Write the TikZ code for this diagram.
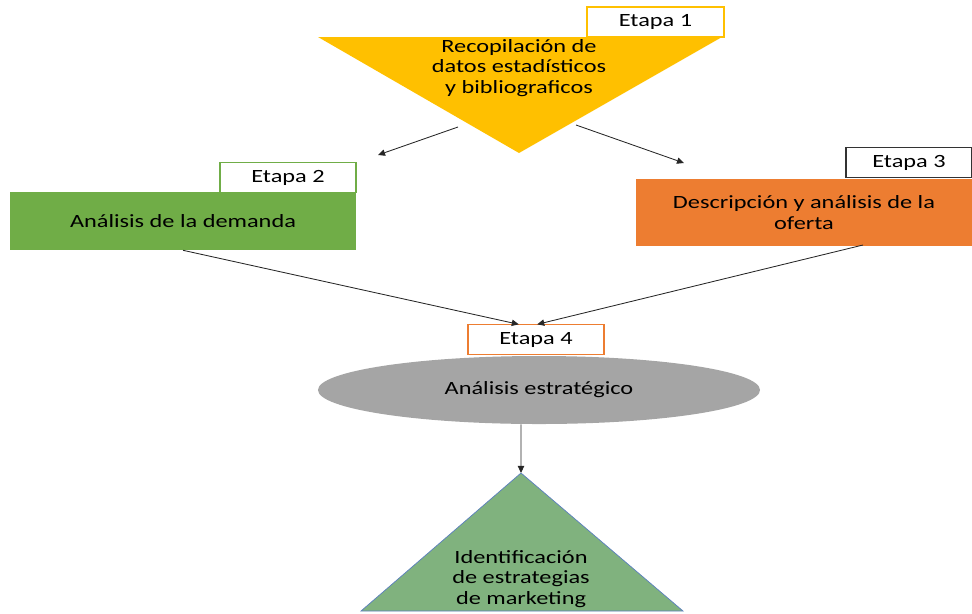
\documentclass[tikz,border=0pt]{standalone}
\usepackage{fontspec}
\setmainfont{Carlito}[FakeStretch=1.3]
\usetikzlibrary{arrows.meta, shapes.geometric, positioning}
\definecolor{etyellow}{HTML}{FFC000}
\definecolor{etgreen}{HTML}{70AD47}
\definecolor{etorange}{HTML}{ED7D31}
\definecolor{etgray}{HTML}{A5A5A5}
\definecolor{etsage}{HTML}{80B27E}
\definecolor{etblue}{HTML}{5B7FBF}
\tikzset{
  stagebox/.style={
    rectangle, minimum width=3.4cm, minimum height=0.73cm,
    inner sep=0pt, text centered, text height=0.644em, text depth=0pt,
    draw=#1, fill=white, line width=0.8pt, text=black
  },
  phasebox/.style={
    rectangle, inner sep=0pt, text centered, align=center,
    fill=#1, text=black
  },
  flowarrow/.style={-{Triangle[length=5pt,width=4.5pt]}, line width=0.6pt, black!85},
}

\begin{document}
\begin{tikzpicture}[x=0.025cm,y=-0.025cm,font=\fontsize{13.3}{14.6}\selectfont]
  \useasboundingbox (0,0) rectangle (972,613);
  % etapa 1
  \fill[etyellow] (318,37) -- (722,37) -- (519,153) -- cycle;
  \node[align=center,text=black](recop)at(519,68)
       {Recopilación de\\datos estadísticos\\y bibliograficos};
  \node[stagebox=etyellow,minimum width=3.425cm,minimum height=0.75cm](e1)at(655.5,22){Etapa 1};
  % etapa 2 y 3
  \node[phasebox=etgreen,minimum width=8.65cm,minimum height=1.45cm](dem)at(183,221)
       {Análisis de la demanda};
  \node[stagebox=etgreen](e2)at(288,177.5){Etapa 2};
  \node[phasebox=etorange,minimum width=8.4cm,minimum height=1.675cm](ofer)at(804,212.5)
       {Descripción y análisis de la\\oferta};
  \node[stagebox=black!80,minimum width=3.15cm](e3)at(909,162.5){Etapa 3};
  % etapa 4
  \node[stagebox=etorange](e4)at(536,339.5){Etapa 4};
  \node[ellipse,fill=etgray,minimum width=11.05cm,minimum height=1.7cm,
        text=black](estr)at(539,390){\raisebox{-1.5pt}{Análisis estratégico}};
  % identificacion
  \coordinate (apex) at (521,473);
  \filldraw[fill=etsage,draw=etblue,line width=0.5pt] (apex) -- (683,611) -- (361,611) -- cycle;
  \node[align=center,text=black](ident)at(521,579)
       {Identificación\\de estrategias\\de marketing};
  % flechas
  \coordinate (t1l) at (458,127);
  \coordinate (t1r) at (576,125);
  \coordinate (d2) at (378,155);
  \coordinate (d3) at (684,163);
  \coordinate (ofs) at (863,245);
  \draw[flowarrow](t1l)--(d2);
  \draw[flowarrow](t1r)--(d3);
  \draw[flowarrow](dem.south)--([xshift=-0.43cm]e4.north);
  \draw[flowarrow](ofs)--([xshift=0.03cm]e4.north);
  \draw[flowarrow]([xshift=-0.45cm]estr.south)--(apex);
\end{tikzpicture}
\end{document}
